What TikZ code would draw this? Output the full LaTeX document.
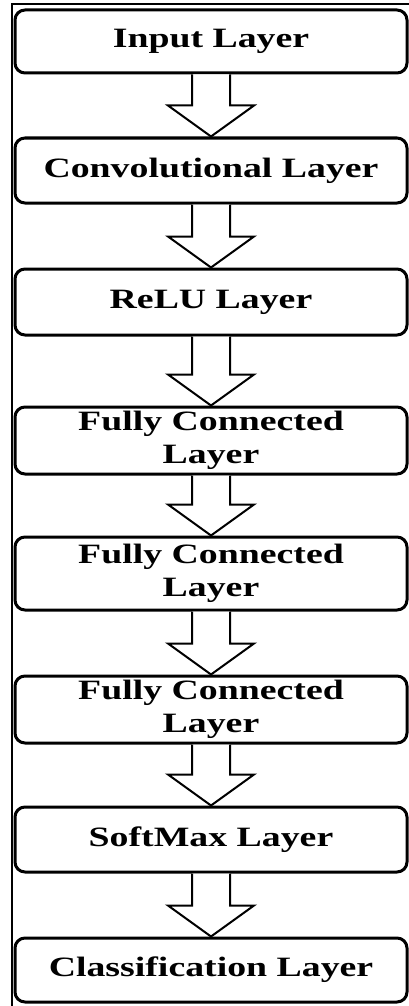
\documentclass[tikz,border=0pt]{standalone}
\usepackage{fontspec}
\setmainfont{Liberation Serif}
\usetikzlibrary{calc}
\tikzset{
  layerbox/.style={draw, line width=3pt, rounded corners=10pt, minimum width=392pt,
    inner sep=0pt, align=center, font=\bfseries\fontsize{28}{34}\selectfont},
  flowarrow/.style={draw, line width=2pt, fill=white, line join=miter},
  framerule/.style={line width=1.5pt}
}
\newcommand{\widetext}[1]{\scalebox{1.35}[1]{#1}}
\newcommand{\twolines}[2]{\widetext{\begin{tabular}{@{}c@{}}#1\\[-1pt]#2\end{tabular}}}
\newcommand{\flowarr}[2]{%
  \draw[flowarrow] ($(#1.south)+(-19pt,0pt)$) -- ($(#2.north)+(-19pt,31pt)$)
    -- ($(#2.north)+(-43pt,31pt)$) -- (#2.north) -- ($(#2.north)+(43pt,31pt)$)
    -- ($(#2.north)+(19pt,31pt)$) -- ($(#1.south)+(19pt,0pt)$);}
\begin{document}
\begin{tikzpicture}[x=1pt,y=-1pt]
\useasboundingbox (0,0) rectangle (409,1006);
\draw[framerule] (12,1006) -- (12,4) -- (409,4);
\node[layerbox, minimum height=63pt] (b1) at (211,41.5) {\widetext{Input Layer}};
\node[layerbox, minimum height=65pt] (b2) at (211,170.5) {\widetext{Convolutional Layer}};
\node[layerbox, minimum height=66pt] (b3) at (211,302) {\widetext{ReLU Layer}};
\node[layerbox, minimum height=65pt] (b4) at (211,440.5) {\twolines{Fully Connected}{Layer}};
\node[layerbox, minimum height=73pt] (b5) at (211,573.5) {\twolines{Fully Connected}{Layer}};
\node[layerbox, minimum height=65pt] (b6) at (211,709.5) {\twolines{Fully Connected}{Layer}};
\node[layerbox, minimum height=65pt] (b7) at (211,839.5) {\widetext{SoftMax Layer}};
\node[layerbox, minimum height=64pt] (b8) at (211,970) {\widetext{Classification Layer}};
\flowarr{b1}{b2}
\flowarr{b2}{b3}
\flowarr{b3}{b4}
\flowarr{b4}{b5}
\flowarr{b5}{b6}
\flowarr{b6}{b7}
\flowarr{b7}{b8}
\end{tikzpicture}
\end{document}
